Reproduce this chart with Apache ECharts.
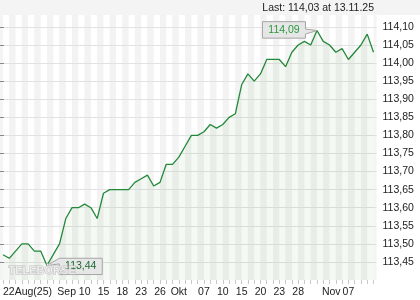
<!DOCTYPE html>
<html>
<head>
<meta charset="utf-8">
<script src="https://cdn.jsdelivr.net/npm/echarts@6/dist/echarts.min.js"></script>
<style>
html,body{margin:0;padding:0;background:#fff;}
#c{width:420px;height:300px;}
</style>
</head>
<body>
<div id="c"></div>
<script>
// ---- data ----
const dates = [
  '22.08','25.08','26.08','27.08','28.08','29.08',
  '01.09','02.09','03.09','04.09','05.09',
  '08.09','09.09','10.09','11.09','12.09',
  '15.09','16.09','17.09','18.09','19.09',
  '22.09','23.09','24.09','25.09','26.09',
  '29.09','30.09','01.10','02.10','03.10',
  '06.10','07.10','08.10','09.10','10.10',
  '13.10','14.10','15.10','16.10','17.10',
  '20.10','21.10','22.10','23.10','24.10',
  '27.10','28.10','29.10','30.10','31.10',
  '03.11','04.11','05.11','06.11','07.11',
  '10.11','11.11','12.11','13.11'
];
const prices = [
  113.47,113.46,113.48,113.50,113.50,113.48,
  113.48,113.44,113.47,113.50,113.57,
  113.60,113.60,113.61,113.60,113.57,
  113.64,113.65,113.65,113.65,113.65,
  113.67,113.68,113.69,113.66,113.67,
  113.72,113.72,113.74,113.77,113.80,
  113.80,113.81,113.83,113.82,113.83,
  113.85,113.86,113.94,113.97,113.95,
  113.97,114.01,114.01,114.01,113.99,
  114.03,114.05,114.06,114.05,114.09,
  114.06,114.05,114.03,114.04,114.01,
  114.03,114.05,114.08,114.03
];
const xTickDates = ['22.08','01.09','10.09','15.09','18.09','23.09','26.09','01.10','07.10','10.10','15.10','20.10','23.10','28.10','03.11','07.11'];
const xTickTexts = ['22Aug(25)','Sep','10','15','18','23','26','Okt','07','10','15','20','23','28','Nov','07'];
const lastText = 'Last: 114,03 at 13.11.25';

// ---- chart ----
const FONT = 'Liberation Sans, Arial, sans-serif';
const Y_MIN = 113.40, Y_MAX = 114.133;
const tickMap = {};
xTickDates.forEach((d, k) => { tickMap[d] = xTickTexts[k]; });
const shifted = { 'Sep': 'sep', 'Nov': 'nov' };

const chart = echarts.init(document.getElementById('c'), null, { renderer: 'canvas' });
const fmt = v => v.toFixed(2).replace('.', ',');

chart.setOption({
  animation: false,
  backgroundColor: '#ffffff',
  grid: [
    { left: 0, right: 43.5, top: 15, bottom: 20, show: true, backgroundColor: '#f4f4f4', borderWidth: 0 },
    { left: 3, right: 46.5, top: 15, bottom: 20 }
  ],
  xAxis: [
    { gridIndex: 0, type: 'value', min: 0, max: 1, show: false },
    {
      gridIndex: 1, type: 'category', data: dates, boundaryGap: false, z: 1,
      axisLine: { show: false },
      axisTick: { show: true, interval: 0, length: 4, lineStyle: { color: '#c8c8c8' } },
      splitArea: { show: true, interval: 0, areaStyle: { color: ['#ffffff', '#f3f3f3'] } },
      splitLine: { show: false },
      axisLabel: {
        interval: (i, v) => tickMap[v] !== undefined,
        alignMinLabel: 'left',
        margin: 7,
        color: '#222', fontSize: 10.5, fontFamily: FONT,
        formatter: (v) => {
          const t = tickMap[v];
          if (t === undefined) return '';
          return shifted[t] ? '{' + shifted[t] + '|' + t + '}' : t;
        },
        rich: {
          sep: { padding: [0, 0, 0, 52], color: '#222', fontSize: 10.5, fontFamily: FONT },
          nov: { padding: [0, 0, 0, 16], color: '#222', fontSize: 10.5, fontFamily: FONT }
        }
      }
    }
  ],
  yAxis: [
    {
      gridIndex: 0, type: 'value', position: 'right', min: Y_MIN, max: Y_MAX, interval: 0.05, z: 2,
      axisLine: { show: false },
      axisTick: { show: true, length: 4, lineStyle: { color: '#888' } },
      splitLine: { show: true, showMinLine: false, showMaxLine: false, lineStyle: { color: '#e2e2e2', width: 1 } },
      axisLabel: {
        showMinLabel: false, showMaxLabel: false, margin: 6,
        color: '#222', fontSize: 10.5, fontFamily: FONT,
        formatter: fmt
      }
    },
    { gridIndex: 1, type: 'value', min: Y_MIN, max: Y_MAX, show: false, splitLine: { show: false } }
  ],
  series: [{
    type: 'line', xAxisIndex: 1, yAxisIndex: 1, data: prices,
    symbol: 'none', z: 3,
    lineStyle: { color: '#23883a', width: 1.3 },
    areaStyle: { color: 'rgba(40,130,40,0.075)', origin: 'start' }
  }],
  graphic: []
});

// callouts for max / min, positioned through the chart's own scales
const iMax = prices.indexOf(Math.max(...prices));
const iMin = prices.indexOf(Math.min(...prices));
const pMax = chart.convertToPixel({ seriesIndex: 0 }, [iMax, prices[iMax]]);
const pMin = chart.convertToPixel({ seriesIndex: 0 }, [iMin, prices[iMin]]);

const boxFill = '#e6e6e6', boxStroke = '#a6a6a6';
const mx1 = pMax[0] - 11.5, mx0 = mx1 - 43, my0 = pMax[1] - 8.9, my1 = my0 + 16.5;
const nx0 = pMin[0] + 12.3, nx1 = nx0 + 43, ny0 = pMin[1] - 7.3, ny1 = ny0 + 16.3;

chart.setOption({
  graphic: [
    { type: 'rect', left: 0, top: 0, z: -10, silent: true, shape: { width: 420, height: 15 }, style: { fill: '#f4f4f4' } },
    { type: 'text', right: 46, top: 3, z: 10, style: { text: lastText, font: '10.5px ' + FONT, fill: '#222' } },
    { type: 'polygon', z: 20, shape: { points: [[mx0, my0], [mx1, my0], [mx1, pMax[1] - 1.5], [pMax[0], pMax[1]], [mx1, pMax[1] + 3.5], [mx1, my1], [mx0, my1]] },
      style: { fill: boxFill, stroke: boxStroke, lineWidth: 1 } },
    { type: 'text', z: 21, x: (mx0 + mx1) / 2, y: (my0 + my1) / 2,
      style: { text: fmt(prices[iMax]), font: '10.5px ' + FONT, fill: '#2a9a3e', align: 'center', verticalAlign: 'middle' } },
    { type: 'polygon', z: 20, shape: { points: [[nx0, ny0], [nx1, ny0], [nx1, ny1], [nx0, ny1], [nx0, ny0 + 5.7], [pMin[0], pMin[1]]] },
      style: { fill: boxFill, stroke: boxStroke, lineWidth: 1 } },
    { type: 'text', z: 21, x: (nx0 + nx1) / 2, y: (ny0 + ny1) / 2,
      style: { text: fmt(prices[iMin]), font: '10.5px ' + FONT, fill: '#1d6a30', align: 'center', verticalAlign: 'middle' } },
    { type: 'text', left: 8, top: 265, z: 30, silent: true, style: { text: 'TELEBÖRSE', font: 'bold 11px ' + FONT, fill: 'rgba(255,255,255,0.6)', stroke: '#bdbdbd', lineWidth: 1 } }
  ]
});
</script>
</body>
</html>
